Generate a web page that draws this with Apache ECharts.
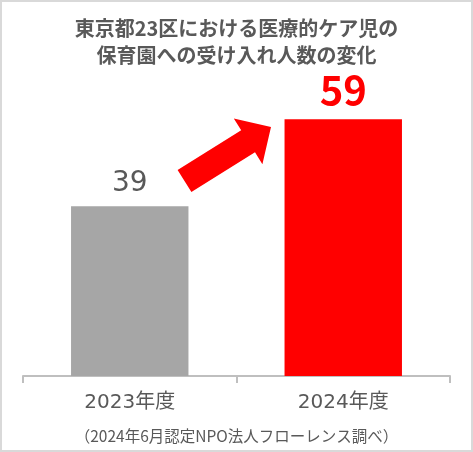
<!DOCTYPE html>
<html><head><meta charset="utf-8">
<script src="https://cdn.jsdelivr.net/npm/echarts@6/dist/echarts.min.js"></script>
<style>html,body{margin:0;padding:0;background:#fff}#c{width:473px;height:452px}</style>
</head><body><div id="c"></div>
<script>
const titleLines = ['東京都23区における医療的ケア児の', '保育園への受け入れ人数の変化'];
const categories = ['2023年度', '2024年度'];
const values = [39, 59];
const barColors = ['#a6a6a6', '#ff0000'];
const footnote = '（2024年6月認定NPO法人フローレンス調べ）';
const FONT = '"Noto Sans CJK JP", "Noto Sans", sans-serif';
const FONT_WIDE = '"DejaVu Sans", "Noto Sans CJK JP", sans-serif';

const chart = echarts.init(document.getElementById('c'), null, {renderer: 'canvas'});
const labelStyles = [
  {color: '#595959', fontSize: 28, fontWeight: 'normal', distance: 9, font: FONT_WIDE},
  {color: '#ff0000', fontSize: 40, fontWeight: 'bold', distance: 10, font: FONT}
];
chart.setOption({
  animation: false,
  backgroundColor: '#fff',
  title: {
    text: titleLines.join('\n'),
    left: 'center', top: 10,
    textStyle: {fontFamily: FONT, fontSize: 20, fontWeight: 'bold', color: '#595959', lineHeight: 27}
  },
  grid: {left: 23, right: 23, top: 115, bottom: 76},
  xAxis: {
    type: 'category', data: categories,
    axisLine: {lineStyle: {color: '#bfbfbf', width: 2}},
    axisTick: {show: true, length: 7, lineStyle: {color: '#bfbfbf', width: 2}},
    axisLabel: {fontFamily: FONT_WIDE, fontSize: 20, color: '#595959', margin: 17}
  },
  yAxis: {type: 'value', min: 0, max: 60, show: false, splitLine: {show: false}},
  series: [{
    type: 'bar', barWidth: '55%',
    data: values.map((v, i) => ({
      value: v,
      itemStyle: {color: barColors[i]},
      label: {
        show: true, position: 'top', distance: labelStyles[i].distance,
        fontFamily: labelStyles[i].font, fontSize: labelStyles[i].fontSize,
        fontWeight: labelStyles[i].fontWeight, color: labelStyles[i].color
      }
    }))
  }],
  graphic: [
    {type: 'rect', shape: {x: 1, y: 1, width: 471, height: 450},
     style: {fill: 'none', stroke: '#d9d9d9', lineWidth: 2}, silent: true},
    {type: 'text', left: 'center', top: 428,
     style: {text: footnote, fontFamily: FONT, fontSize: 15.5, fill: '#595959'}},
    {type: 'polygon',
     shape: {points: [[177.6,170.0],[241.2,130.3],[233.8,118.4],[271,127],[262.4,164.2],[255,152.3],[191.4,192]]},
     style: {fill: '#ff0000'}}
  ]
});
</script></body></html>
